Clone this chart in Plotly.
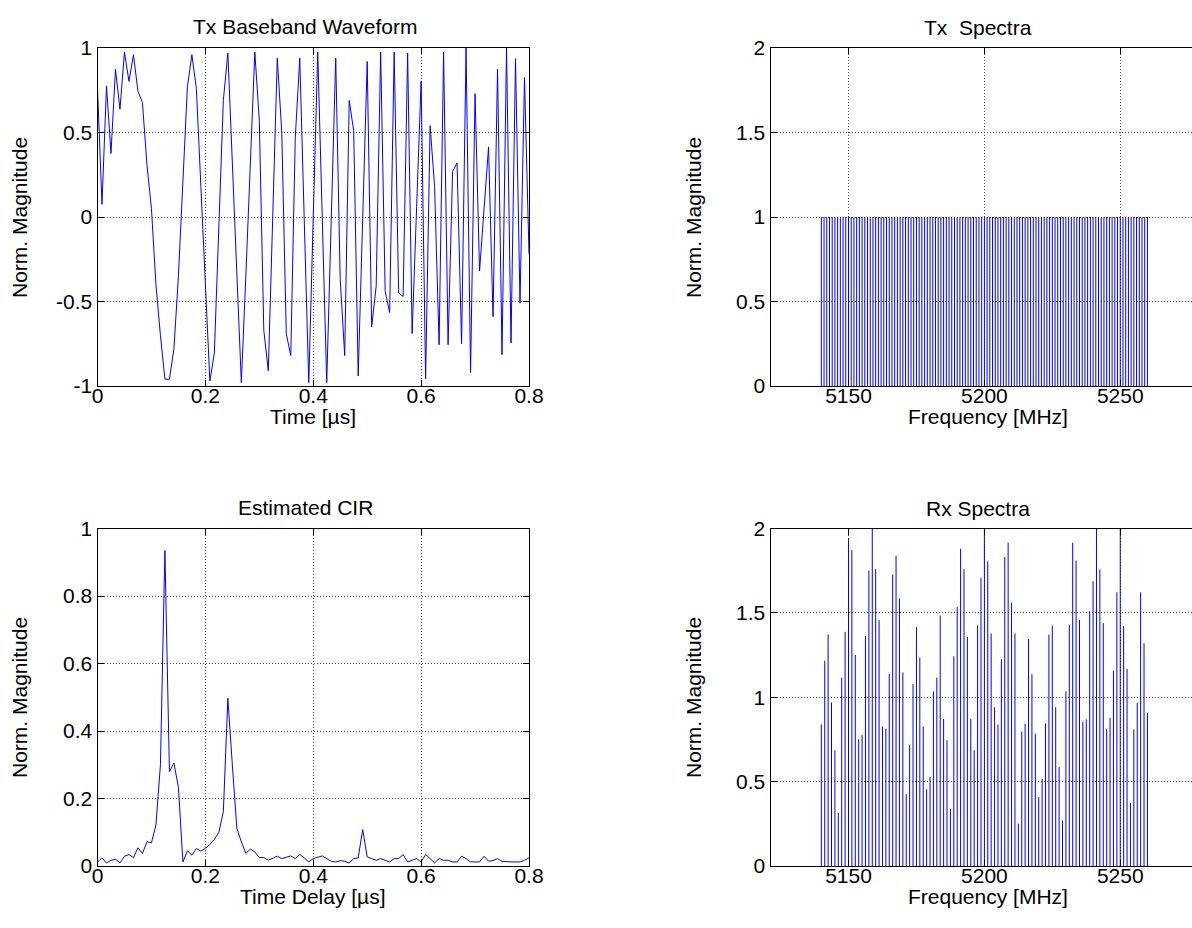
import plotly.graph_objects as go

W, H = 1192, 928

# ---------------- data ----------------
dt_us = 1 / 120.0  # sample spacing of the time-domain traces [µs]

tx_wave = [
    0.76, 0.075, 0.776, 0.376, 0.874, 0.638, 0.976, 0.803, 0.96, 0.744,
    0.677, 0.31, 0.05, -0.40, -0.70, -0.96, -0.96, -0.78, -0.35, 0.22,
    0.77, 0.96, 0.76, 0.18, -0.39, -0.97, -0.805, -0.06, 0.69, 0.97,
    0.32, -0.33, -0.98, -0.35, 0.35, 0.976, 0.57, -0.67, -0.91, -0.04,
    0.94, 0.50, -0.69, -0.82, 0.47, 0.94, -0.02, -0.98, 0.0, 0.976,
    0.0, -0.98, -0.02, 0.94, -0.37, -0.82, 0.69, 0.51, -0.94, -0.02,
    0.92, -0.65, -0.41, 0.976, -0.44, -0.565, 0.976, -0.45, -0.47, 0.97,
    -0.69, 0.06, 0.805, -0.957, 0.54, 0.18, -0.756, 0.976, -0.756, 0.27,
    0.32, -0.75, 1.0, -0.92, 0.73, -0.32, 0.04, 0.415, -0.59, 0.874,
    -0.815, 1.0, -0.746, 0.937, -0.51, 0.825, -0.22,
]

cir = [
    0.012, 0.024, 0.009, 0.017, 0.020, 0.009, 0.029, 0.034, 0.025, 0.054,
    0.037, 0.072, 0.069, 0.121, 0.30, 0.935, 0.28, 0.305, 0.233, 0.012,
    0.045, 0.032, 0.052, 0.044, 0.052, 0.064, 0.079, 0.100, 0.161, 0.497,
    0.30, 0.112, 0.072, 0.037, 0.050, 0.042, 0.025, 0.025, 0.017, 0.022,
    0.029, 0.022, 0.026, 0.030, 0.022, 0.034, 0.024, 0.012, 0.022, 0.025,
    0.030, 0.022, 0.014, 0.012, 0.016, 0.014, 0.009, 0.022, 0.024, 0.108,
    0.027, 0.022, 0.017, 0.022, 0.017, 0.012, 0.022, 0.022, 0.034, 0.012,
    0.017, 0.022, 0.012, 0.034, 0.022, 0.009, 0.022, 0.017, 0.017, 0.012,
    0.012, 0.029, 0.022, 0.012, 0.012, 0.012, 0.029, 0.014, 0.016, 0.022,
    0.014, 0.012, 0.012, 0.012, 0.012, 0.017, 0.024,
]

tx_f_start, tx_f_step = 5140.0, 1.0      # MHz
tx_mag = [
    1, 1, 1, 1, 1, 1, 1, 1, 1, 1, 1, 1, 1, 1, 1, 1, 1, 1, 1, 1,
    1, 1, 1, 1, 1, 1, 1, 1, 1, 1, 1, 1, 1, 1, 1, 1, 1, 1, 1, 1,
    1, 1, 1, 1, 1, 1, 1, 1, 1, 1, 1, 1, 1, 1, 1, 1, 1, 1, 1, 1,
    1, 1, 1, 1, 1, 1, 1, 1, 1, 1, 1, 1, 1, 1, 1, 1, 1, 1, 1, 1,
    1, 1, 1, 1, 1, 1, 1, 1, 1, 1, 1, 1, 1, 1, 1, 1, 1, 1, 1, 1,
    1, 1, 1, 1, 1, 1, 1, 1, 1, 1, 1, 1, 1, 1, 1, 1, 1, 1, 1, 1,
    1,
]

rx_f_start, rx_f_step = 5140.0, 1.25     # MHz
rx_mag = [
    0.839, 1.216, 1.373, 0.969, 0.686, 0.314, 1.116, 1.388, 1.941, 1.873,
    1.251, 0.751, 0.776, 1.363, 1.751, 2.0, 1.759, 1.457, 0.827, 0.812,
    1.139, 1.727, 1.839, 1.586, 1.147, 0.426, 0.716, 1.078, 1.416, 1.235,
    0.827, 0.455, 0.527, 1.035, 1.116, 1.484, 0.871, 0.745, 0.338, 1.243,
    1.535, 1.88, 1.759, 1.357, 0.871, 0.686, 1.425, 1.708, 2.0, 1.804,
    1.378, 0.941, 0.839, 1.225, 1.831, 1.916, 1.561, 1.378, 0.251, 0.796,
    0.843, 1.345, 1.137, 0.784, 0.408, 0.516, 0.845, 1.371, 1.424, 0.941,
    0.588, 0.269, 1.035, 1.429, 1.916, 1.81, 1.457, 0.855, 0.869, 1.51,
    1.688, 2.0, 1.757, 1.439, 0.81, 0.878, 1.157, 1.622, 2.0, 1.422,
    1.167, 0.373, 0.81, 0.967, 1.622, 1.32, 0.906,
]

time_ticks = [0, 0.2, 0.4, 0.6, 0.8]
time_tick_text = ["0", "0.2", "0.4", "0.6", "0.8"]
wave_y_ticks = [-1, -0.5, 0, 0.5, 1]
wave_y_text = ["-1", "-0.5", "0", "0.5", "1"]
cir_y_ticks = [0, 0.2, 0.4, 0.6, 0.8, 1]
cir_y_text = ["0", "0.2", "0.4", "0.6", "0.8", "1"]
freq_ticks = [5150, 5200, 5250]
freq_tick_text = ["5150", "5200", "5250"]
spec_y_ticks = [0, 0.5, 1, 1.5, 2]
spec_y_text = ["0", "0.5", "1", "1.5", "2"]

# ---------------- helpers ----------------
t_wave = [i * dt_us for i in range(len(tx_wave))]
t_cir = [i * dt_us for i in range(len(cir))]
tx_f = [tx_f_start + k * tx_f_step for k in range(len(tx_mag))]
rx_f = [rx_f_start + k * rx_f_step for k in range(len(rx_mag))]


def stems(xs, ys):
    sx, sy = [], []
    for x, y in zip(xs, ys):
        sx += [x, x, None]
        sy += [0, y, None]
    return sx, sy


BLUE = "#0000FF"
FONT = "Arial, Liberation Sans, Helvetica, sans-serif"
FS = 21

fig = go.Figure()
fig.add_trace(go.Scatter(x=t_wave, y=tx_wave, mode="lines",
                         line=dict(color=BLUE, width=1), xaxis="x", yaxis="y",
                         showlegend=False, hoverinfo="skip"))
sx, sy = stems(tx_f, tx_mag)
fig.add_trace(go.Scatter(x=sx, y=sy, mode="lines",
                         line=dict(color=BLUE, width=1), xaxis="x2", yaxis="y2",
                         showlegend=False, hoverinfo="skip"))
fig.add_trace(go.Scatter(x=t_cir, y=cir, mode="lines",
                         line=dict(color=BLUE, width=1), xaxis="x3", yaxis="y3",
                         showlegend=False, hoverinfo="skip"))
sx, sy = stems(rx_f, rx_mag)
fig.add_trace(go.Scatter(x=sx, y=sy, mode="lines",
                         line=dict(color=BLUE, width=1), xaxis="x4", yaxis="y4",
                         showlegend=False, hoverinfo="skip"))

# pixel geometry of the four axes
L1, R1 = 97.5, 529.0
L2, R2 = 770.5, 1192.0
T1, B1 = 48.0, 386.0
T2, B2 = 528.5, 866.0


def px(x):
    return x / W


def py(y):
    return 1 - y / H


def axis_style(**kw):
    d = dict(showline=True, linecolor="black", linewidth=1,
             ticks="inside", ticklen=6, tickcolor="black", tickwidth=1,
             showgrid=True, gridcolor="#444444", griddash="1px,2px",
             gridwidth=1, zeroline=False, automargin=False,
             tickfont=dict(family=FONT, size=FS, color="black"),
             fixedrange=True)
    d.update(kw)
    return d


XSTAND = -9

fig.update_layout(
    width=W, height=H,
    margin=dict(l=0, r=0, t=0, b=0, pad=0, autoexpand=False),
    paper_bgcolor="white", plot_bgcolor="white",
    showlegend=False,
    xaxis=axis_style(domain=[px(L1), px(R1)], range=[0, 0.8], anchor="y",
                     tickvals=time_ticks, ticktext=time_tick_text, mirror="allticks",
                     ticklabelstandoff=XSTAND),
    yaxis=axis_style(domain=[py(B1), py(T1)], range=[-1, 1], anchor="x",
                     tickvals=wave_y_ticks, ticktext=wave_y_text, mirror="allticks"),
    xaxis2=axis_style(domain=[px(L2), px(R2)], range=[5121.3, 5276.4], anchor="y2",
                      tickvals=freq_ticks, ticktext=freq_tick_text, mirror="allticks",
                      ticklabelstandoff=XSTAND),
    yaxis2=axis_style(domain=[py(B1), py(T1)], range=[0, 2], anchor="x2",
                      tickvals=spec_y_ticks, ticktext=spec_y_text, mirror=False),
    xaxis3=axis_style(domain=[px(L1), px(R1)], range=[0, 0.8], anchor="y3",
                      tickvals=time_ticks, ticktext=time_tick_text, mirror="allticks",
                      ticklabelstandoff=XSTAND),
    yaxis3=axis_style(domain=[py(B2), py(T2)], range=[0, 1], anchor="x3",
                      tickvals=cir_y_ticks, ticktext=cir_y_text, mirror="allticks"),
    xaxis4=axis_style(domain=[px(L2), px(R2)], range=[5121.3, 5276.4], anchor="y4",
                      tickvals=freq_ticks, ticktext=freq_tick_text, mirror="allticks",
                      ticklabelstandoff=XSTAND),
    yaxis4=axis_style(domain=[py(B2), py(T2)], range=[0, 2], anchor="x4",
                      tickvals=spec_y_ticks, ticktext=spec_y_text, mirror=False),
)


def label(text, x, y, angle=0):
    fig.add_annotation(text=text, x=px(x), y=py(y), xref="paper", yref="paper",
                       xanchor="center", yanchor="middle", showarrow=False,
                       textangle=angle, font=dict(family=FONT, size=FS, color="black"))


# titles
label("Tx Baseband Waveform", 305, 27)
label("Tx  Spectra", 978, 28)
label("Estimated CIR", 305, 507)
label("Rx Spectra", 978, 508)
# x-axis titles
label("Time [µs]", 313, 416)
label("Frequency [MHz]", 988, 416)
label("Time Delay [µs]", 313, 896)
label("Frequency [MHz]", 988, 896)
# y-axis titles
label("Norm. Magnitude", 19, 218, -90)
label("Norm. Magnitude", 693, 218, -90)
label("Norm. Magnitude", 19, 698, -90)
label("Norm. Magnitude", 693, 698, -90)

fig.write_html("out.html")
